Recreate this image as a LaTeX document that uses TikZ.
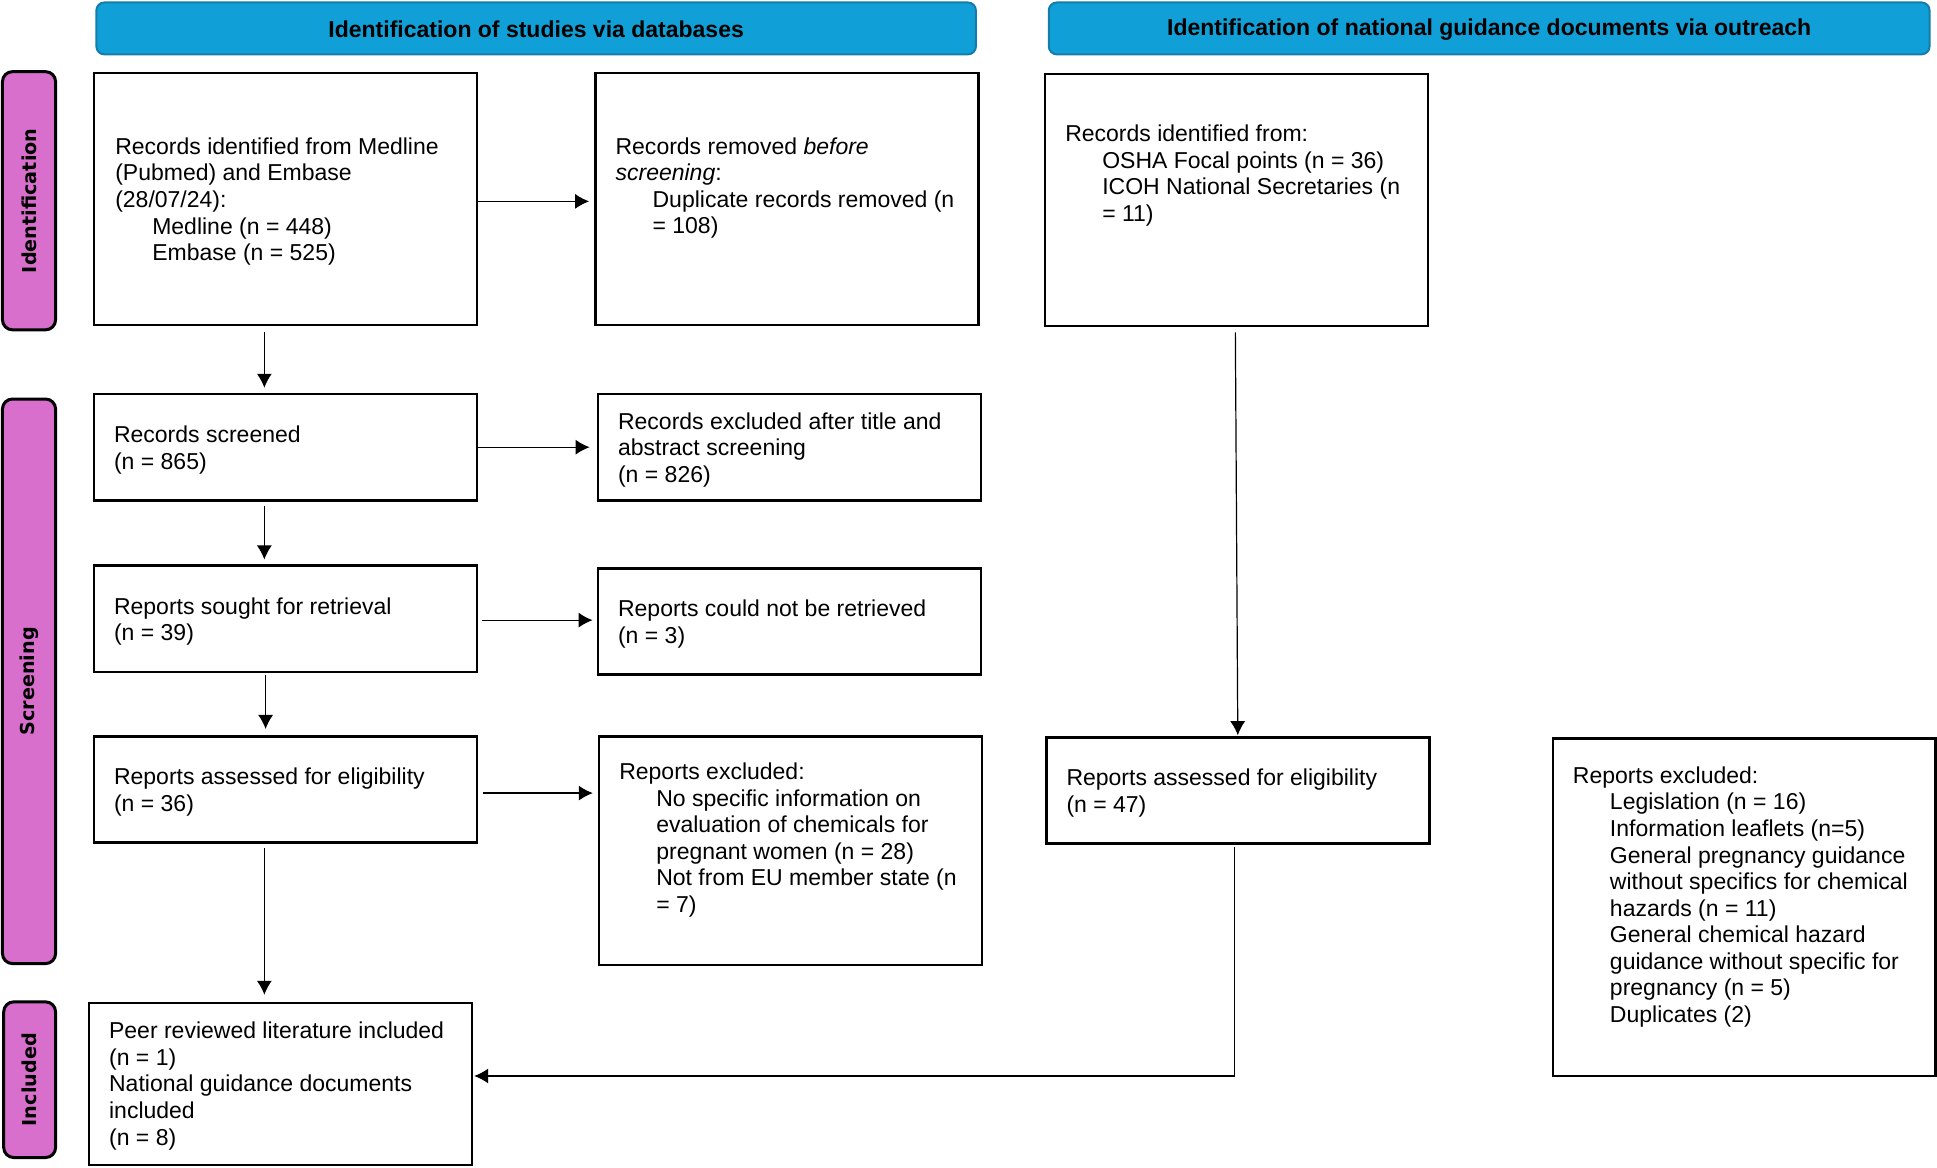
\documentclass[tikz,border=0pt]{standalone}
\usepackage{fontspec}
\setmainfont{Liberation Sans}
\newfontfamily\phasefont{DejaVu Sans}
\usetikzlibrary{fit,arrows.meta,calc}
\definecolor{hdrfill}{RGB}{16,159,214}
\definecolor{hdrline}{RGB}{20,125,172}
\definecolor{phasefill}{RGB}{216,111,204}
\newcommand{\ind}{\hspace*{18.5pt}}
\begin{document}
\begin{tikzpicture}[x=0.6176pt,y=-0.6176pt,
  box/.style={draw=black, line width=1.3pt, inner sep=0pt, fit={#1}},
  txt/.style={anchor=west, align=left, inner sep=0pt, yshift=-1.3pt, font=\fontsize{11.5}{13.28}\selectfont},
  hdr/.style={draw=hdrline, fill=hdrfill, line width=1pt, rounded corners=4pt, inner sep=0pt, fit={#1}},
  hdrtxt/.style={inner sep=0pt, yshift=-0.6pt, font=\fontsize{11.5}{13.3}\selectfont\bfseries},
  phase/.style={draw=black, fill=phasefill, line width=1.5pt, rounded corners=5pt, inner sep=0pt, fit={#1}},
  phasetxt/.style={rotate=90, inner sep=0pt, font=\phasefont\bfseries\fontsize{9.6}{11}\selectfont},
  arr/.style={-{Latex[length=7pt,width=7.5pt]}, line width=0.6pt}
]
\useasboundingbox (0,0) rectangle (1568,944.8);

% headers
\node[hdr={(78,2)(790,44)}] (h1) {};
\node[hdrtxt] at (h1) {Identification of studies via databases};
\node[hdr={(849,2)(1562,44)}] (h2) {};
\node[hdrtxt] at (h2) {Identification of national guidance documents via outreach};

% phase bars
\node[phase={(2,58)(45,267)}] (p1) {};
\node[phasetxt] at (p1) {Identification};
\node[phase={(2,323)(45,780)}] (p2) {};
\node[phasetxt] at (p2) {Screening};
\node[phase={(3,811)(45,937)}] (p3) {};
\node[phasetxt] at (p3) {Included};

% boxes
\node[box={(76,59)(386,263)}] (A) {};
\node[txt] at (93,161) {Records identified from Medline\\(Pubmed) and Embase\\(28/07/24):\\\ind Medline (n = 448)\\\ind Embase (n = 525)};

\node[box={(482,59)(792,263)}] (B) {};
\node[txt] at (498,150) {Records removed \textit{before}\\\textit{screening}:\\\ind Duplicate records removed (n\\\ind = 108)};

\node[box={(846,60)(1156,264)}] (C) {};
\node[txt] at (862,140) {Records identified from:\\\ind OSHA Focal points (n = 36)\\\ind ICOH National Secretaries (n\\\ind = 11)};

\node[box={(76,319)(386,405)}] (D) {};
\node[txt] at (92,362) {Records screened\\(n = 865)};

\node[box={(484,319)(794,405)}] (E) {};
\node[txt] at (500,362) {Records excluded after title and\\abstract screening\\(n = 826)};

\node[box={(76,458)(386,544)}] (F) {};
\node[txt] at (92,501) {Reports sought for retrieval\\(n = 39)};

\node[box={(484,460)(794,546)}] (G) {};
\node[txt] at (500,503) {Reports could not be retrieved\\(n = 3)};

\node[box={(76,596)(386,682)}] (H) {};
\node[txt] at (92,639) {Reports assessed for eligibility\\(n = 36)};

\node[box={(485,596)(795,781)}] (I) {};
\node[txt] at (501,678) {Reports excluded:\\\ind No specific information on\\\ind evaluation of chemicals for\\\ind pregnant women (n = 28)\\\ind Not from EU member state (n\\\ind = 7)};

\node[box={(847,597)(1157,683)}] (J) {};
\node[txt] at (863,640) {Reports assessed for eligibility\\(n = 47)};

\node[box={(1257,598)(1567,871)}] (K) {};
\node[txt] at (1273,724) {Reports excluded:\\\ind Legislation (n = 16)\\\ind Information leaflets (n=5)\\\ind General pregnancy guidance\\\ind without specifics for chemical\\\ind hazards (n = 11)\\\ind General chemical hazard\\\ind guidance without specific for\\\ind pregnancy (n = 5)\\\ind Duplicates (2)};

\node[box={(72,812)(382,943)}] (L) {};
\node[txt] at (88,877) {Peer reviewed literature included\\(n = 1)\\National guidance documents\\included\\(n = 8)};

% connectors
\coordinate (cx) at (214,0);
\coordinate (cy) at (215,0);
\coordinate (c1) at (1000,0);
\coordinate (c2) at (1002,0);
\coordinate (ay) at (0,163);
\coordinate (fy) at (0,502);
\coordinate (hy) at (0,642);
\coordinate (turn) at (999,871);

\draw[arr, shorten >=2.5pt] (A.east |- ay) -- (B.west |- ay);
\draw[arr, shorten >=3.5pt] (D.east) -- (E.west);
\draw[arr, shorten <=2pt, shorten >=2pt] (F.east |- fy) -- (G.west |- fy);
\draw[arr, shorten <=2.5pt, shorten >=2.5pt] (H.east |- hy) -- (I.west |- hy);

\draw[arr, shorten <=3pt, shorten >=2.5pt] (A.south -| cx) -- (D.north -| cx);
\draw[arr, shorten <=2pt, shorten >=2.5pt] (D.south -| cx) -- (F.north -| cx);
\draw[arr, shorten <=1pt, shorten >=3pt] (F.south -| cy) -- (H.north -| cy);
\draw[arr, shorten <=2pt, shorten >=3.5pt] (H.south -| cx) -- (L.north -| cx);

\draw[arr, shorten <=2.5pt, shorten >=0.5pt] (C.south -| c1) -- (J.north -| c2);
\draw[arr, shorten <=1pt, shorten >=0.5pt] (J.south -| turn) -- (turn) -- (turn -| L.east);
\end{tikzpicture}
\end{document}
